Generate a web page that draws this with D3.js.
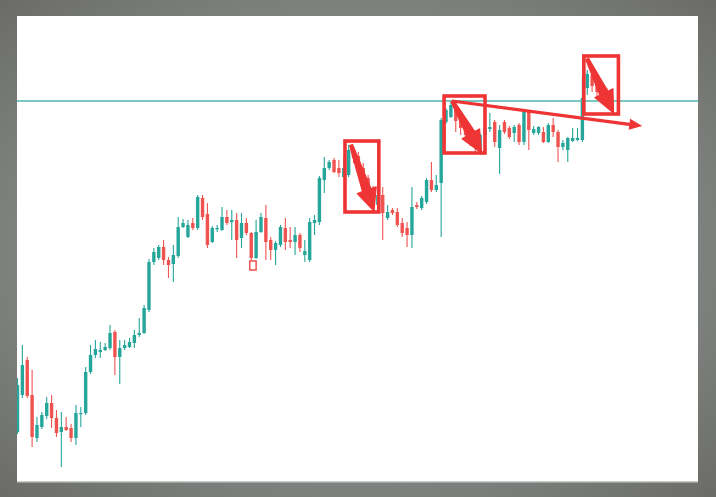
<!DOCTYPE html>
<html><head><meta charset="utf-8">
<script src="https://cdn.jsdelivr.net/npm/d3@7"></script>
<style>html,body{margin:0;padding:0;background:#7b7d78;} svg{display:block;}</style>
</head><body>
<svg id="chart" width="716" height="497"></svg>
<script>
// ---- data (price units) ----
const opens  = [68,105,140,105,62,73,84,97,82,68,73,72,62,86,87,128,145,148,150,152,168,143,152,153,157,165,167,190,238,242,253,240,236,244,273,263,277,272,302,286,258,271,270,283,278,280,262,277,267,242,268,282,260,250,255,272,260,258,265,245,240,277,278,320,332,340,332,323,325,350,344,332,322,310,295,305,282,290,288,277,272,265,295,292,298,320,310,317,378,383,393,382,375,370,362,350,365,371,378,352,378,372,367,375,358,388,367,367,368,358,375,368,353,350,359,360,360,412,425,418,412,406,402];
const highs  = [122,155,143,130,83,88,103,105,90,88,83,76,95,93,133,155,160,158,157,175,170,160,160,162,170,182,195,241,252,255,260,243,255,283,281,280,282,305,305,297,274,275,293,290,290,287,287,282,268,280,287,295,263,259,275,282,273,273,267,260,282,285,324,343,340,342,340,343,355,354,348,337,325,314,310,313,295,292,292,282,278,313,298,304,322,338,325,382,392,398,399,388,380,374,366,367,375,387,380,375,380,374,375,377,390,389,374,374,373,377,382,370,360,363,372,372,423,430,430,422,416,412,408];
const lows   = [66,102,102,53,58,71,81,72,63,33,69,58,55,73,85,126,142,142,149,150,125,116,150,152,152,163,166,188,235,240,235,222,218,242,272,262,270,270,280,252,257,268,269,275,260,242,252,265,240,241,267,240,240,235,253,250,252,245,248,238,238,265,275,307,330,327,323,322,323,337,328,315,303,290,292,260,280,285,273,263,253,252,291,290,296,308,308,263,376,382,368,365,360,354,348,345,360,368,353,326,366,361,358,355,355,350,365,365,357,357,363,338,350,338,358,359,358,405,408,402,397,393,389];
const closes = [115,135,104,63,75,85,97,82,67,73,70,62,87,87,128,145,151,150,153,167,143,152,155,158,165,167,192,238,248,253,240,235,245,273,277,275,272,303,283,255,272,272,283,277,280,260,277,267,242,268,283,258,250,257,273,258,258,265,252,249,278,280,322,332,338,328,327,332,350,342,332,320,308,295,305,287,288,287,275,267,265,293,293,302,320,310,315,380,390,395,379,372,365,358,352,365,372,373,358,370,368,363,373,358,388,370,371,373,358,375,368,353,357,362,362,362,402,426,414,408,402,398,392];
const levelPrice = 399;
// annotation boxes: [startIndex, endIndex, topPrice, bottomPrice]
const boxes = [[67.25,74.2,359,288],[87.6,96.0,404,347],[116.3,123.4,444,386]];
const smallBox = [47.7,49.0,239,230];
// thick drawn arrows: [fromIndex, fromPrice, toIndex, toPrice]
const drawnArrows = [[68.5,355,73.2,289],[89.3,399,95.3,347],[117.0,441,122.4,387]];
const trendArrow = [89.2,399,128.3,374];

const W=716,H=497;
const P={x0:17,y0:16,x1:698,y1:481};
const GREEN="#26a69a", RED="#ef5350", ANN="#ee3434";
const svg=d3.select("#chart");
const defs=svg.append("defs");
const rg=defs.append("radialGradient").attr("id","bg").attr("cx","50%").attr("cy","50%").attr("r","70%");
rg.append("stop").attr("offset","0%").attr("stop-color","#8d9593");
rg.append("stop").attr("offset","60%").attr("stop-color","#838784");
rg.append("stop").attr("offset","100%").attr("stop-color","#6b6c67");
defs.append("clipPath").attr("id","clip").append("rect")
  .attr("x",P.x0).attr("y",P.y0).attr("width",P.x1-P.x0).attr("height",P.y1-P.y0);

svg.append("rect").attr("width",W).attr("height",H).attr("fill","url(#bg)");
svg.append("rect").attr("x",P.x0).attr("y",P.y1).attr("width",P.x1-P.x0).attr("height",1.5).attr("fill","#c9cbca");
svg.append("rect").attr("x",P.x0).attr("y",P.y0).attr("width",P.x1-P.x0).attr("height",P.y1-P.y0).attr("fill","#ffffff");

const n=opens.length;
const x=d3.scaleLinear().domain([0,n-1]).range([17.5,611.6]);
const y=d3.scaleLinear().domain([19,484]).range([P.y1,P.y0]);

const g=svg.append("g").attr("clip-path","url(#clip)");
const data=d3.range(n).map(i=>({i,o:opens[i],h:highs[i],l:lows[i],c:closes[i]}));
const col=d=>d.c>=d.o?GREEN:RED;
g.selectAll("line.wick").data(data).join("line").attr("class","wick")
  .attr("x1",d=>x(d.i)).attr("x2",d=>x(d.i)).attr("y1",d=>y(d.h)).attr("y2",d=>y(d.l))
  .attr("stroke",col).attr("stroke-width",1.1);
g.selectAll("rect.body").data(data).join("rect").attr("class","body")
  .attr("x",d=>x(d.i)-1.7).attr("width",3.4)
  .attr("y",d=>y(Math.max(d.o,d.c)))
  .attr("height",d=>Math.max(1.2,Math.abs(y(d.o)-y(d.c))))
  .attr("fill",col);

// horizontal level
g.append("line").attr("x1",P.x0).attr("x2",P.x1).attr("y1",y(levelPrice)).attr("y2",y(levelPrice))
  .attr("stroke","#4db6ac").attr("stroke-width",1.3);

// annotations
const ag=svg.append("g").attr("clip-path","url(#clip)");
ag.selectAll("rect.box").data(boxes).join("rect").attr("class","box")
  .attr("x",d=>x(d[0])).attr("y",d=>y(d[2])).attr("width",d=>x(d[1])-x(d[0])).attr("height",d=>y(d[3])-y(d[2]))
  .attr("fill","none").attr("stroke",ANN).attr("stroke-width",3.6);
ag.append("rect").attr("x",x(smallBox[0])).attr("y",y(smallBox[2]))
  .attr("width",x(smallBox[1])-x(smallBox[0])).attr("height",y(smallBox[3])-y(smallBox[2]))
  .attr("fill","none").attr("stroke",ANN).attr("stroke-width",1.3);

function arrowPath(x1,y1,x2,y2,w0,w1,hw,hl){
  const dx=x2-x1,dy=y2-y1,L=Math.hypot(dx,dy),ux=dx/L,uy=dy/L,nx=-uy,ny=ux;
  const bx=x2-ux*hl,by=y2-uy*hl;
  const pts=[[x1+nx*w0/2,y1+ny*w0/2],[bx+nx*w1/2,by+ny*w1/2],[bx+nx*hw/2,by+ny*hw/2],[x2,y2],
    [bx-nx*hw/2,by-ny*hw/2],[bx-nx*w1/2,by-ny*w1/2],[x1-nx*w0/2,y1-ny*w0/2]];
  return "M"+pts.map(p=>p.join(",")).join("L")+"Z";
}
ag.selectAll("path.darrow").data(drawnArrows).join("path").attr("class","darrow")
  .attr("d",d=>arrowPath(x(d[0]),y(d[1]),x(d[2]),y(d[3]),3,9,20,22))
  .attr("fill",ANN).attr("stroke",ANN).attr("stroke-width",1.2).attr("stroke-linejoin","round");
ag.append("path")
  .attr("d",arrowPath(x(trendArrow[0]),y(trendArrow[1]),x(trendArrow[2]),y(trendArrow[3]),3.2,3.2,11,13))
  .attr("fill",ANN);
</script>
</body></html>
